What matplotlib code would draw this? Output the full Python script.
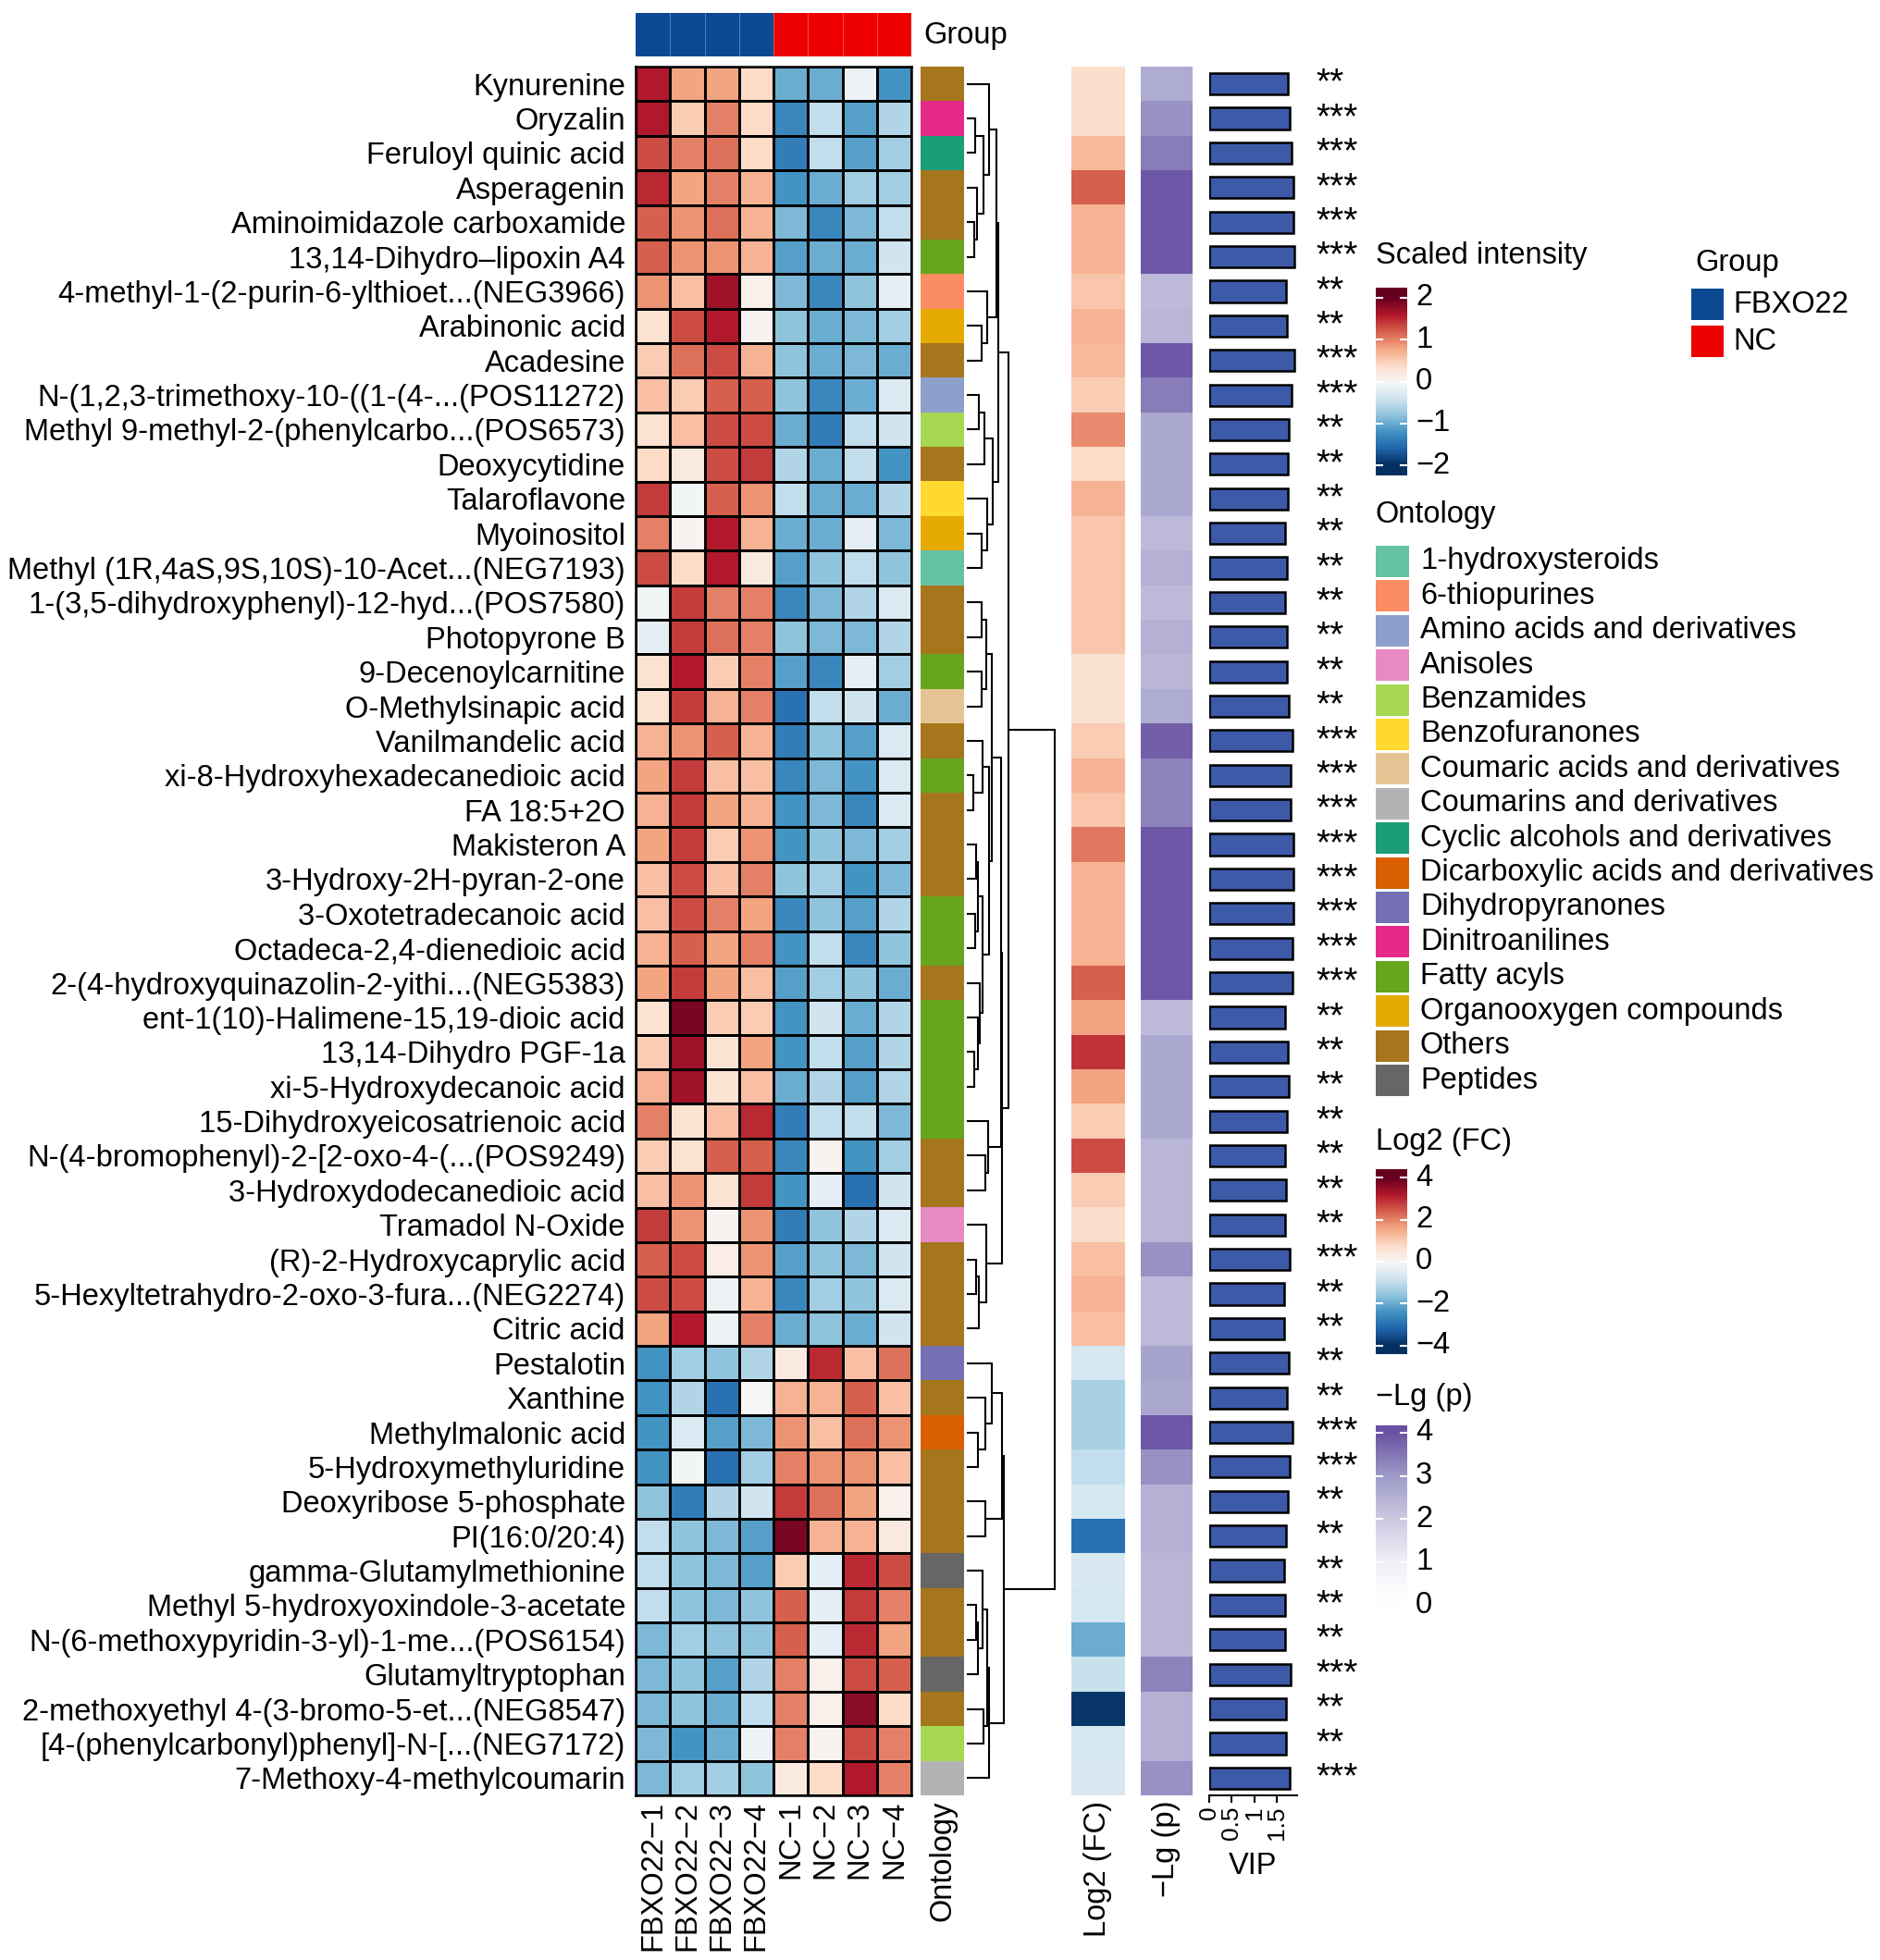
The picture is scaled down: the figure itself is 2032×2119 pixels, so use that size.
import matplotlib
matplotlib.use('Agg')
import matplotlib.pyplot as plt
import numpy as np
from matplotlib.colors import LinearSegmentedColormap, to_rgba
from matplotlib.transforms import blended_transform_factory

plt.rcParams['font.family'] = ['Liberation Sans', 'DejaVu Sans']

# ---------------- data ----------------
samples = ['FBXO22−1', 'FBXO22−2', 'FBXO22−3', 'FBXO22−4',
           'NC−1', 'NC−2', 'NC−3', 'NC−4']
sample_groups = ['FBXO22'] * 4 + ['NC'] * 4
group_colors = {'FBXO22': '#0B4A93', 'NC': '#EE0000'}

metabolites = [
    'Kynurenine', 'Oryzalin', 'Feruloyl quinic acid', 'Asperagenin',
    'Aminoimidazole carboxamide', '13,14-Dihydro–lipoxin A4',
    '4-methyl-1-(2-purin-6-ylthioet...(NEG3966)', 'Arabinonic acid', 'Acadesine',
    'N-(1,2,3-trimethoxy-10-((1-(4-...(POS11272)',
    'Methyl 9-methyl-2-(phenylcarbo...(POS6573)', 'Deoxycytidine', 'Talaroflavone',
    'Myoinositol', 'Methyl (1R,4aS,9S,10S)-10-Acet...(NEG7193)',
    '1-(3,5-dihydroxyphenyl)-12-hyd...(POS7580)', 'Photopyrone B',
    '9-Decenoylcarnitine', 'O-Methylsinapic acid', 'Vanilmandelic acid',
    'xi-8-Hydroxyhexadecanedioic acid', 'FA 18:5+2O', 'Makisteron A',
    '3-Hydroxy-2H-pyran-2-one', '3-Oxotetradecanoic acid',
    'Octadeca-2,4-dienedioic acid', '2-(4-hydroxyquinazolin-2-yithi...(NEG5383)',
    'ent-1(10)-Halimene-15,19-dioic acid', '13,14-Dihydro PGF-1a',
    'xi-5-Hydroxydecanoic acid', '15-Dihydroxyeicosatrienoic acid',
    'N-(4-bromophenyl)-2-[2-oxo-4-(...(POS9249)', '3-Hydroxydodecanedioic acid',
    'Tramadol N-Oxide', '(R)-2-Hydroxycaprylic acid',
    '5-Hexyltetrahydro-2-oxo-3-fura...(NEG2274)', 'Citric acid', 'Pestalotin',
    'Xanthine', 'Methylmalonic acid', '5-Hydroxymethyluridine',
    'Deoxyribose 5-phosphate', 'PI(16:0/20:4)', 'gamma-Glutamylmethionine',
    'Methyl 5-hydroxyoxindole-3-acetate', 'N-(6-methoxypyridin-3-yl)-1-me...(POS6154)',
    'Glutamyltryptophan', '2-methoxyethyl 4-(3-bromo-5-et...(NEG8547)',
    '[4-(phenylcarbonyl)phenyl]-N-[...(NEG7172)', '7-Methoxy-4-methylcoumarin']

scaled = [
    [1.6, 0.8, 0.8, 0.4, -1.0, -1.0, -0.1, -1.2],
    [1.6, 0.5, 1.0, 0.4, -1.3, -0.5, -1.1, -0.6],
    [1.3, 1.0, 1.1, 0.4, -1.4, -0.5, -1.1, -0.7],
    [1.5, 0.8, 1.0, 0.7, -1.2, -1.0, -0.7, -0.7],
    [1.2, 0.9, 1.1, 0.7, -0.9, -1.3, -0.9, -0.5],
    [1.2, 0.9, 0.9, 0.7, -1.1, -1.0, -1.0, -0.4],
    [0.9, 0.6, 1.7, 0.1, -0.9, -1.3, -0.8, -0.2],
    [0.3, 1.3, 1.6, 0.05, -0.8, -1.0, -0.9, -0.7],
    [0.5, 1.1, 1.3, 0.7, -0.8, -1.0, -0.9, -1.0],
    [0.6, 0.5, 1.2, 1.2, -0.8, -1.3, -1.0, -0.3],
    [0.3, 0.6, 1.3, 1.3, -1.0, -1.4, -0.5, -0.4],
    [0.4, 0.2, 1.3, 1.4, -0.6, -1.0, -0.5, -1.2],
    [1.4, -0.05, 1.2, 0.9, -0.5, -1.0, -1.0, -0.6],
    [1.0, 0.05, 1.6, 0.7, -1.0, -1.0, -0.2, -0.9],
    [1.3, 0.4, 1.6, 0.2, -1.1, -0.8, -0.5, -0.8],
    [-0.05, 1.4, 1.0, 1.0, -1.3, -0.9, -0.6, -0.3],
    [-0.2, 1.4, 1.1, 1.0, -0.8, -0.9, -0.9, -0.6],
    [0.3, 1.6, 0.5, 1.0, -1.1, -1.3, -0.2, -0.7],
    [0.3, 1.4, 0.7, 1.0, -1.5, -0.5, -0.4, -1.0],
    [0.7, 0.9, 1.2, 0.7, -1.4, -0.8, -1.1, -0.3],
    [0.8, 1.4, 0.6, 0.6, -1.3, -0.9, -1.2, -0.3],
    [0.7, 1.4, 0.8, 0.7, -1.2, -0.9, -1.3, -0.3],
    [0.8, 1.4, 0.5, 0.9, -1.2, -0.8, -0.9, -0.7],
    [0.6, 1.3, 0.6, 1.0, -0.8, -0.7, -1.2, -0.9],
    [0.6, 1.3, 1.0, 0.8, -1.3, -0.8, -1.1, -0.6],
    [0.7, 1.2, 0.8, 1.0, -1.2, -0.5, -1.3, -0.8],
    [0.8, 1.4, 0.8, 0.6, -1.1, -0.7, -0.8, -1.0],
    [0.3, 1.9, 0.5, 0.5, -1.2, -0.4, -1.0, -0.6],
    [0.5, 1.7, 0.3, 0.8, -1.2, -0.5, -1.1, -0.6],
    [0.7, 1.7, 0.3, 0.6, -1.0, -0.6, -1.1, -0.6],
    [1.0, 0.3, 0.6, 1.5, -1.4, -0.5, -0.5, -0.9],
    [0.5, 0.3, 1.2, 1.2, -1.3, 0.05, -1.2, -0.7],
    [0.6, 0.9, 0.3, 1.4, -1.2, -0.2, -1.5, -0.4],
    [1.4, 0.9, 0.05, 0.9, -1.4, -0.8, -0.6, -0.3],
    [1.2, 1.3, 0.15, 0.9, -1.1, -0.8, -0.9, -0.4],
    [1.3, 1.3, -0.1, 0.7, -1.3, -0.7, -0.8, -0.3],
    [0.8, 1.6, -0.1, 1.0, -1.0, -0.8, -1.0, -0.4],
    [-1.2, -0.7, -0.8, -0.6, 0.2, 1.5, 0.6, 1.1],
    [-1.2, -0.6, -1.5, 0.0, 0.7, 0.7, 1.2, 0.6],
    [-1.2, -0.3, -1.1, -0.9, 0.9, 0.6, 1.1, 0.9],
    [-1.2, -0.05, -1.5, -0.7, 1.0, 0.9, 0.9, 0.6],
    [-0.8, -1.4, -0.6, -0.4, 1.4, 1.1, 0.8, 0.1],
    [-0.5, -0.8, -0.9, -1.1, 1.9, 0.7, 0.7, 0.2],
    [-0.5, -0.8, -0.9, -1.1, 0.5, -0.2, 1.5, 1.3],
    [-0.5, -0.8, -0.9, -0.8, 1.2, -0.2, 1.4, 1.0],
    [-0.9, -0.7, -0.8, -0.8, 1.2, -0.2, 1.5, 0.8],
    [-0.9, -0.8, -1.1, -0.6, 1.0, 0.1, 1.3, 1.2],
    [-0.9, -0.8, -1.0, -0.5, 1.0, 0.1, 1.8, 0.4],
    [-0.9, -1.2, -1.0, -0.1, 1.0, 0.05, 1.3, 1.0],
    [-0.9, -0.7, -0.7, -0.8, 0.2, 0.4, 1.6, 1.0],
]

ontology = [
    'Others', 'Dinitroanilines', 'Cyclic alcohols and derivatives', 'Others', 'Others',
    'Fatty acyls', '6-thiopurines', 'Organooxygen compounds', 'Others',
    'Amino acids and derivatives', 'Benzamides', 'Others', 'Benzofuranones',
    'Organooxygen compounds', '1-hydroxysteroids', 'Others', 'Others', 'Fatty acyls',
    'Coumaric acids and derivatives', 'Others', 'Fatty acyls', 'Others', 'Others',
    'Others', 'Fatty acyls', 'Fatty acyls', 'Others', 'Fatty acyls', 'Fatty acyls',
    'Fatty acyls', 'Fatty acyls', 'Others', 'Others', 'Anisoles', 'Others', 'Others',
    'Others', 'Dihydropyranones', 'Others', 'Dicarboxylic acids and derivatives',
    'Others', 'Others', 'Others', 'Peptides', 'Others', 'Others', 'Peptides',
    'Others', 'Benzamides', 'Coumarins and derivatives']

ontology_classes = [
    '1-hydroxysteroids', '6-thiopurines', 'Amino acids and derivatives', 'Anisoles',
    'Benzamides', 'Benzofuranones', 'Coumaric acids and derivatives',
    'Coumarins and derivatives', 'Cyclic alcohols and derivatives',
    'Dicarboxylic acids and derivatives', 'Dihydropyranones', 'Dinitroanilines',
    'Fatty acyls', 'Organooxygen compounds', 'Others', 'Peptides']
ontology_colors = [
    '#66C2A5', '#FC8D62', '#8DA0CB', '#E78AC3', '#A6D854', '#FFD92F', '#E5C494',
    '#B3B3B3', '#1B9E77', '#D95F02', '#7570B3', '#E7298A', '#66A61E', '#E6AB02',
    '#A6761D', '#666666']

log2fc = [0.7, 0.7, 1.3, 2.4, 1.4, 1.4, 1.1, 1.4, 1.3, 1.0, 1.9, 0.8, 1.4, 1.1, 1.1,
          1.1, 1.1, 0.6, 0.6, 1.0, 1.4, 1.1, 2.1, 1.4, 1.4, 1.4, 2.4, 1.6, 2.9, 1.6,
          1.0, 2.6, 1.0, 0.7, 1.2, 1.4, 1.2, -0.7, -1.3, -1.3, -1.0, -0.7, -3.0,
          -0.6, -0.7, -2.0, -0.9, -3.9, -0.7, -0.6]

neglogp = [2.6, 3.1, 3.4, 3.9, 3.9, 3.9, 2.3, 2.4, 3.9, 3.4, 2.7, 2.7, 2.7, 2.3, 2.5,
           2.3, 2.5, 2.4, 2.6, 3.8, 3.3, 3.3, 3.9, 3.9, 3.9, 3.9, 3.9, 2.3, 2.7, 2.7,
           2.7, 2.4, 2.4, 2.4, 3.1, 2.3, 2.3, 2.8, 2.7, 3.9, 3.1, 2.5, 2.5, 2.4, 2.4,
           2.4, 3.3, 2.5, 2.5, 3.1]

vip = [1.74, 1.78, 1.83, 1.86, 1.86, 1.88, 1.70, 1.72, 1.88, 1.83, 1.77, 1.74, 1.74,
       1.68, 1.72, 1.69, 1.72, 1.72, 1.76, 1.85, 1.81, 1.81, 1.86, 1.86, 1.86, 1.85,
       1.85, 1.68, 1.75, 1.76, 1.72, 1.68, 1.70, 1.69, 1.79, 1.67, 1.67, 1.77, 1.72,
       1.84, 1.78, 1.74, 1.71, 1.66, 1.68, 1.69, 1.81, 1.70, 1.70, 1.78]

stars = ['**', '***', '***', '***', '***', '***', '**', '**', '***', '***', '**', '**',
         '**', '**', '**', '**', '**', '**', '**', '***', '***', '***', '***', '***',
         '***', '***', '***', '**', '**', '**', '**', '**', '**', '**', '***', '**',
         '**', '**', '**', '***', '***', '**', '**', '**', '**', '**', '***', '**',
         '**', '***']

# row dendrogram: (merge height, left, right), leaves are row indices
row_tree = (
    285,
    (135,
     (102,
      (95, (73, 0, (55, (27, 1, 2), (33, 3, (23, 4, 5)))), (65, 6, (47, 7, 8))),
      (83, (58, (40, 9, 10), 11), (65, 12, (47, 13, 14)))),
     (115,
      (110,
       (80, (63, (47, 15, 16), (47, 17, 18)),
        (73, (50, 19, (20, 20, 21)),
         (52, (37, (30, 22, 23), (27, 24, 25)), (43, 26, (35, 27, (23, 28, 29)))))),
       (70, 30, (60, 31, 32))),
      (63, 33, (40, (30, 34, 35), 36)))),
    (120,
     (115, (80, 37, (60, 38, (35, 39, 40))), (60, 41, 42)),
     (73, (67, (50, 43, (37, (30, 44, 45), 46)), (55, 47, 48)), 49)))

# ---------------- drawing ----------------
W, H = 2032, 2119
FS = 23.5
N = len(metabolites)

fig = plt.figure(figsize=(W / 100, H / 100), dpi=100)
fig.patch.set_facecolor('white')


def px_ax(x0, y0, x1, y1):
    return fig.add_axes([x0 / W, 1 - y1 / H, (x1 - x0) / W, (y1 - y0) / H])


# main heatmap
ax = px_ax(687, 72, 985, 1941)
ax.pcolormesh(np.arange(9) - 0.5, np.arange(N + 1) - 0.5, np.array(scaled),
              cmap='RdBu_r', vmin=-2, vmax=2, edgecolors='black', linewidth=1.8)
ax.set_xlim(-0.5, 7.5)
ax.set_ylim(N - 0.5, -0.5)
ax.set_yticks(range(N))
ax.set_yticklabels(metabolites, fontsize=FS)
ax.set_xticks(range(8))
ax.set_xticklabels(samples, rotation=90, fontsize=FS)
ax.tick_params(axis='y', length=0, pad=8)
ax.tick_params(axis='x', length=0, pad=4)
for s in ax.spines.values():
    s.set_linewidth(1.8)

# group annotation bar
axg = px_ax(687, 14, 985, 61)
axg.imshow([[to_rgba(group_colors[g]) for g in sample_groups]], aspect='auto',
           extent=(-0.5, 7.5, 0.5, -0.5))
for i in range(1, 8):
    axg.axvline(i - 0.5, color='white', lw=0.6, alpha=0.35)
axg.axis('off')
fig.text(998 / W, 1 - 38 / H, 'Group', fontsize=FS, va='center')

# ontology annotation column
onto_map = dict(zip(ontology_classes, ontology_colors))
axo = px_ax(995, 72, 1042, 1941)
axo.imshow([[to_rgba(onto_map[o])] for o in ontology], aspect='auto',
           extent=(-0.5, 0.5, N - 0.5, -0.5))
axo.set_xlim(-0.5, 0.5)
axo.set_ylim(N - 0.5, -0.5)
axo.set_yticks([])
axo.set_xticks([0])
axo.set_xticklabels(['Ontology'], rotation=90, fontsize=FS)
axo.tick_params(axis='x', length=0, pad=4)
for s in axo.spines.values():
    s.set_visible(False)

# row dendrogram
axd = px_ax(1045, 72, 1142, 1941)


def draw_tree(node):
    if isinstance(node, int):
        return float(node), 0.0
    h, left, right = node
    yl, hl = draw_tree(left)
    yr, hr = draw_tree(right)
    axd.plot([hl, h, h, hr], [yl, yl, yr, yr], color='black', lw=1.5,
             solid_capstyle='butt', solid_joinstyle='miter')
    return (yl + yr) / 2, h


draw_tree(row_tree)
axd.set_xlim(0, 290)
axd.set_ylim(N - 0.5, -0.5)
axd.axis('off')

# log2 FC column
axf = px_ax(1158, 72, 1216, 1941)
axf.imshow(np.array(log2fc)[:, None], cmap='RdBu_r', vmin=-4, vmax=4, aspect='auto',
           extent=(-0.5, 0.5, N - 0.5, -0.5))
axf.set_yticks([])
axf.set_xticks([0])
axf.set_xticklabels(['Log2 (FC)'], rotation=90, fontsize=FS)
axf.tick_params(axis='x', length=0, pad=4)
for s in axf.spines.values():
    s.set_visible(False)

# -lg(p) column
purples = LinearSegmentedColormap.from_list(
    'lgp', ['#FFFFFF', '#F2F0F7', '#CBC9E2', '#9E9AC8', '#6A51A3'])
axp = px_ax(1233, 72, 1289, 1941)
axp.imshow(np.array(neglogp)[:, None], cmap=purples, vmin=0, vmax=4, aspect='auto',
           extent=(-0.5, 0.5, N - 0.5, -0.5))
axp.set_yticks([])
axp.set_xticks([0])
axp.set_xticklabels(['−Lg (p)'], rotation=90, fontsize=FS)
axp.tick_params(axis='x', length=0, pad=4)
for s in axp.spines.values():
    s.set_visible(False)

# VIP bars
axv = px_ax(1307, 72, 1402, 1941)
axv.barh(np.arange(N), vip, height=0.62, color='#3D5AA8', edgecolor='black',
         linewidth=1.8)
axv.set_xlim(0, 1.95)
axv.set_ylim(N - 0.5, -0.5)
axv.set_yticks([])
axv.set_xticks([0, 0.5, 1, 1.5])
axv.set_xticklabels(['0', '0.5', '1', '1.5'], rotation=90, fontsize=19)
axv.tick_params(axis='x', length=6, width=1.5, pad=2)
for side in ['top', 'right', 'left']:
    axv.spines[side].set_visible(False)
axv.spines['bottom'].set_linewidth(1.5)
axv.set_xlabel('VIP', fontsize=FS, labelpad=10)

tr = blended_transform_factory(fig.transFigure, axv.transData)
for i, s in enumerate(stars):
    axv.text(1422 / W, i, s, transform=tr, fontsize=28, va='center',
             ha='left', clip_on=False)


# ---------------- legends ----------------
def colorbar(x0, y0, x1, y1, cmap, vmin, vmax, lo, hi, ticks, labels):
    cax = px_ax(x0, y0, x1, y1)
    grad = np.linspace(hi, lo, 256)[:, None]
    cax.imshow(grad, cmap=cmap, vmin=vmin, vmax=vmax, aspect='auto',
               extent=(0, 1, lo, hi))
    cax.set_xlim(0, 1)
    cax.set_ylim(lo, hi)
    for t in ticks:
        cax.plot([0, 0.22], [t, t], color='white', lw=1.5)
        cax.plot([0.78, 1], [t, t], color='white', lw=1.5)
    cax.axis('off')
    ttr = blended_transform_factory(cax.transAxes, cax.transData)
    for t, lab in zip(ticks, labels):
        cax.text(1.27, t, lab, transform=ttr, va='center', ha='left', fontsize=FS)


fig.text(1487 / W, 1 - 277 / H, 'Scaled intensity', fontsize=FS, va='center')
colorbar(1487, 311, 1521, 514, 'RdBu_r', -2, 2, -2.24, 2.24,
         [2, 1, 0, -1, -2], ['2', '1', '0', '−1', '−2'])

fig.text(1832 / W, 1 - 284 / H, 'Group', fontsize=FS, va='center')
for k, (g, yc) in enumerate([('FBXO22', 329), ('NC', 369)]):
    lax = px_ax(1828, yc - 17, 1863, yc + 17)
    lax.set_facecolor(group_colors[g])
    lax.set_xticks([])
    lax.set_yticks([])
    for s in lax.spines.values():
        s.set_visible(False)
    fig.text(1873 / W, 1 - yc / H, g, fontsize=FS, va='center')

fig.text(1487 / W, 1 - 557 / H, 'Ontology', fontsize=FS, va='center')
for k, (name, col) in enumerate(zip(ontology_classes, ontology_colors)):
    yc = 607 + k * 37.4
    lax = px_ax(1487, yc - 17, 1523, yc + 17)
    lax.set_facecolor(col)
    lax.set_xticks([])
    lax.set_yticks([])
    for s in lax.spines.values():
        s.set_visible(False)
    fig.text(1535 / W, 1 - yc / H, name, fontsize=FS, va='center')

fig.text(1487 / W, 1 - 1234 / H, 'Log2 (FC)', fontsize=FS, va='center')
colorbar(1487, 1264, 1521, 1464, 'RdBu_r', -4, 4, -4.4, 4.4,
         [4, 2, 0, -2, -4], ['4', '2', '0', '−2', '−4'])

fig.text(1487 / W, 1 - 1510 / H, '−Lg (p)', fontsize=FS, va='center')
colorbar(1487, 1541, 1521, 1745, purples, 0, 4, -0.2, 4.17,
         [4, 3, 2, 1, 0], ['4', '3', '2', '1', '0'])

fig.savefig('out.png', dpi=100, facecolor='white')
